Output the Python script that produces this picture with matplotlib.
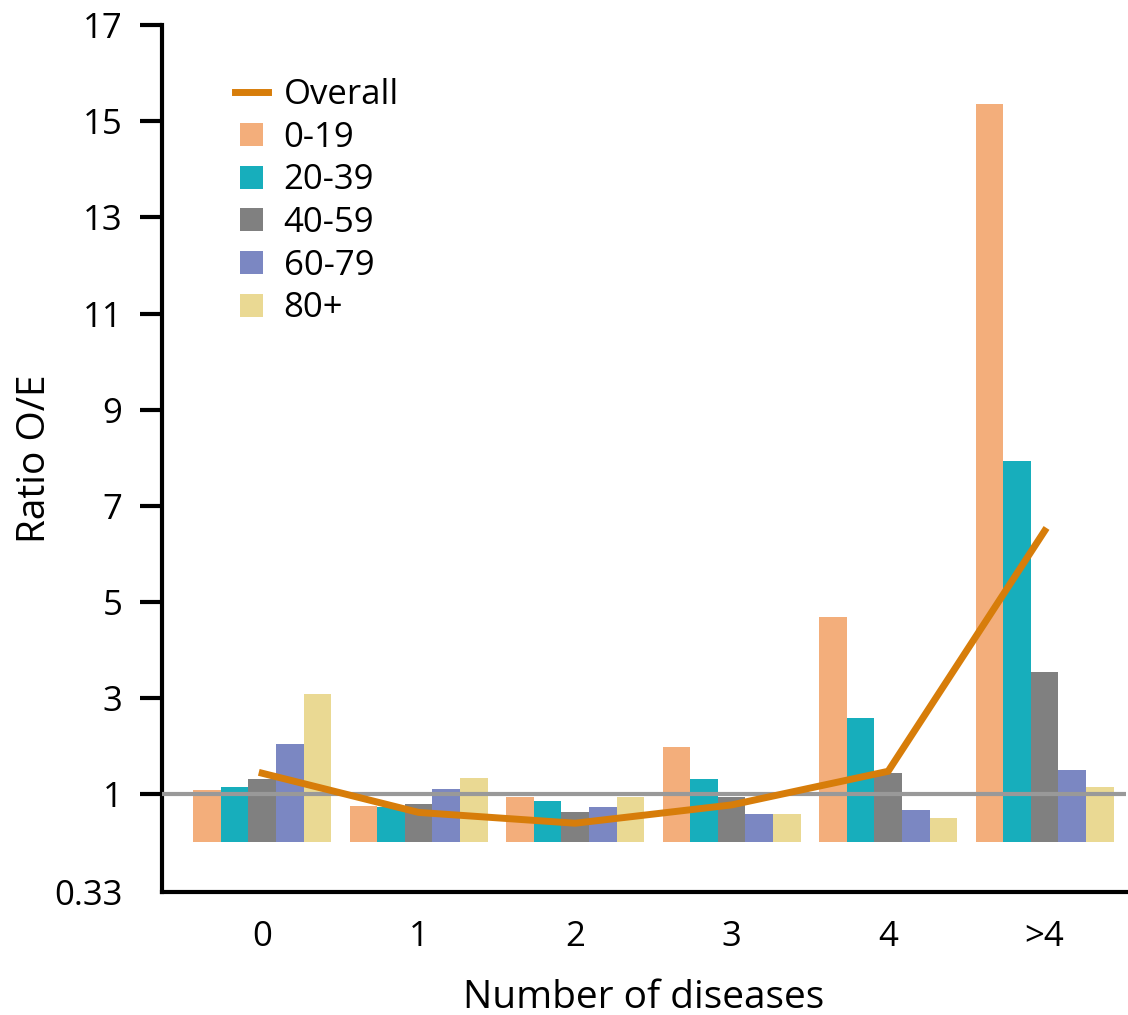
import numpy as np
import matplotlib
matplotlib.use("Agg")
import matplotlib.pyplot as plt
from matplotlib.patches import Rectangle
from matplotlib.legend_handler import HandlerPatch
from matplotlib.ticker import FixedLocator, NullLocator

plt.rcParams['font.family'] = ['Open Sans', 'DejaVu Sans']

# ---- data (ratio observed / expected) ----
categories = ['0', '1', '2', '3', '4', '>4']
age_groups = ['0-19', '20-39', '40-59', '60-79', '80+']
v_0_19 = [1.10, 0.81, 0.944, 1.98, 4.69, 15.35]
v_20_39 = [1.15, 0.79, 0.877, 1.31, 2.58, 7.93]
v_40_59 = [1.33, 0.84, 0.727, 0.95, 1.44, 3.55]
v_60_79 = [2.04, 1.12, 0.794, 0.71, 0.75, 1.50]
v_80p = [3.08, 1.35, 0.944, 0.71, 0.667, 1.15]
overall = [1.44, 0.727, 0.625, 0.82, 1.48, 6.48]
ytick_values = [0.33, 1, 3, 5, 7, 9, 11, 13, 15, 17]
ytick_labels = ['0.33', '1', '3', '5', '7', '9', '11', '13', '15', '17']
bar_base = 0.5

series = [v_0_19, v_20_39, v_40_59, v_60_79, v_80p]
colors = ['#F3AE7B', '#17AEBC', '#808080', '#7B87C2', '#EAD993']
line_color = '#D77D0A'


def fwd(r):
    r = np.asarray(r, dtype=float)
    with np.errstate(divide='ignore', invalid='ignore'):
        return np.where(r >= 1, r, 2 - 1 / r)


def inv(t):
    t = np.asarray(t, dtype=float)
    with np.errstate(divide='ignore', invalid='ignore'):
        return np.where(t >= 1, t, 1 / (2 - t))


W, H = 1128, 1015
fig = plt.figure(figsize=(W / 100, H / 100), dpi=100)
ax = fig.add_axes([162 / W, 1 - 892 / H, (1126 - 162) / W, (892 - 25) / H])
ax.set_yscale('function', functions=(fwd, inv))

x = np.arange(len(categories))
bw = 0.1766
bars = []
for i, (vals, c, lab) in enumerate(zip(series, colors, age_groups)):
    b = ax.bar(x + (i - 2) * bw, np.array(vals) - bar_base, bottom=bar_base,
               width=bw, color=c, label=lab, zorder=2, linewidth=0)
    bars.append(b)

ax.axhline(1, color='#999999', lw=3, zorder=3)
ln, = ax.plot(x, overall, color=line_color, lw=5, zorder=4,
              solid_joinstyle='miter', label='Overall')

ax.set_xlim(-0.64, 5.52)
ax.set_ylim(0.33, 17)
ax.yaxis.set_major_locator(FixedLocator(ytick_values))
ax.yaxis.set_minor_locator(NullLocator())
ax.set_yticklabels(ytick_labels)
ax.set_xticks(x)
ax.set_xticklabels(categories)

for s in ['top', 'right']:
    ax.spines[s].set_visible(False)
for s in ['left', 'bottom']:
    ax.spines[s].set_linewidth(3)
    ax.spines[s].set_capstyle('projecting')

ax.tick_params(axis='y', length=16, width=3, pad=12.5, labelsize=25)
ax.tick_params(axis='x', length=0, pad=20.5, labelsize=25)
ax.yaxis.get_major_ticks()[0].tick1line.set_visible(False)

ax.set_xlabel('Number of diseases', fontsize=28)
ax.set_ylabel('Ratio O/E', fontsize=28)
ax.xaxis.set_label_coords(0.5, (892 - 979) / 867)
ax.yaxis.set_label_coords((54 - 162) / 964, 0.5)


def square(legend, orig_handle, xdescent, ydescent, width, height, fontsize):
    s = 16.5
    return Rectangle((-xdescent + (width - s) / 2, -ydescent + (height - s) / 2), s, s)


handles = [ln] + [b.patches[0] for b in bars]
labels = ['Overall'] + age_groups
leg = ax.legend(handles, labels, loc='upper left', frameon=False,
                bbox_to_anchor=(235 / W, 1 - 78 / H), bbox_transform=fig.transFigure,
                fontsize=25, handlelength=0.95, handletextpad=0.45,
                labelspacing=0.25, borderpad=0, borderaxespad=0,
                handler_map={Rectangle: HandlerPatch(patch_func=square)})

fig.savefig('out.png', dpi=100)
